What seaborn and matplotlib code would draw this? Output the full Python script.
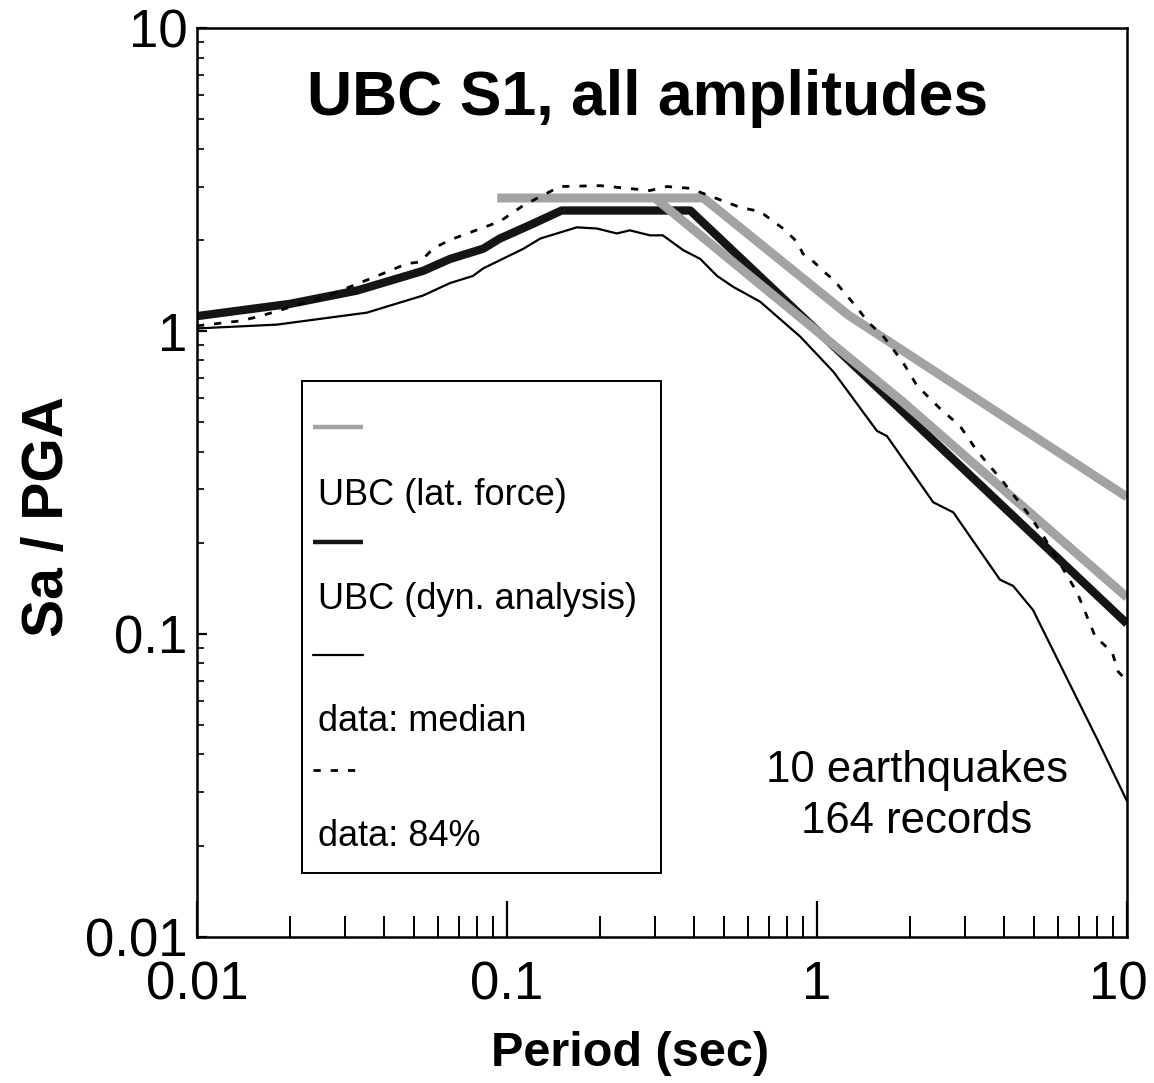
import matplotlib
matplotlib.use("Agg")
import matplotlib.pyplot as plt
from matplotlib.ticker import FixedLocator, FixedFormatter, LogLocator, NullFormatter
from matplotlib.transforms import ScaledTranslation
import seaborn as sns
import pandas as pd

# UBC lateral-force spectrum (two branches)
lat_force_a_period = [0.093, 0.43, 1.26, 10.0]
lat_force_a_value = [2.75, 2.75, 1.13, 0.283]
lat_force_b_period = [0.30, 1.867, 10.0]
lat_force_b_value = [2.75, 0.59, 0.132]

# UBC dynamic-analysis spectrum
dyn_period = [0.01, 0.02, 0.0328, 0.0536, 0.0655, 0.0838, 0.0948, 0.12, 0.15, 0.39, 10.0]
dyn_value = [1.12, 1.23, 1.36, 1.58, 1.73, 1.87, 2.02, 2.25, 2.5, 2.5, 0.108]

# Recorded data: median spectrum
median_period = [0.01, 0.0181, 0.0353, 0.0536, 0.0655, 0.0776, 0.0838, 0.113, 0.128, 0.168,
                 0.195, 0.226, 0.249, 0.289, 0.318, 0.370, 0.420, 0.476, 0.536, 0.655,
                 0.881, 1.13, 1.56, 1.68, 2.37, 2.75, 3.89, 4.29, 4.97, 6.90, 8.0, 10.0]
median_value = [1.02, 1.05, 1.15, 1.31, 1.44, 1.52, 1.61, 1.87, 2.02, 2.20,
                2.18, 2.10, 2.15, 2.07, 2.07, 1.85, 1.73, 1.52, 1.40, 1.25,
                0.96, 0.733, 0.468, 0.450, 0.272, 0.252, 0.151, 0.144, 0.120, 0.061, 0.045, 0.028]

# Recorded data: 84th percentile spectrum
p84_period = [0.01, 0.0138, 0.016, 0.026, 0.0381, 0.0476, 0.0524, 0.0577, 0.0655, 0.0948,
              0.113, 0.148, 0.200, 0.244, 0.289, 0.328, 0.389, 0.428, 0.565, 0.655,
              0.777, 0.862, 0.90, 0.977, 1.045, 1.135, 1.35, 1.46, 1.63, 1.89,
              2.10, 2.50, 2.89, 3.28, 3.98, 4.86, 5.36, 6.90, 7.89, 8.95, 9.36, 10.0]
p84_value = [1.04, 1.08, 1.12, 1.30, 1.52, 1.67, 1.69, 1.87, 2.00, 2.30,
             2.60, 3.00, 3.02, 2.96, 2.91, 3.00, 2.96, 2.85, 2.56, 2.48,
             2.18, 1.97, 1.80, 1.69, 1.58, 1.47, 1.19, 1.07, 0.965, 0.79,
             0.66, 0.553, 0.486, 0.402, 0.318, 0.245, 0.211, 0.137, 0.098, 0.087, 0.075, 0.070]

legend_labels = ["UBC (lat. force)", "UBC (dyn. analysis)", "data: median", "data: 84%"]
tick_values = [0.01, 0.1, 1, 10]
tick_labels = ["0.01", "0.1", "1", "10"]

sns.set_theme(style="ticks")
plt.rcParams["font.family"] = ["Liberation Sans", "DejaVu Sans"]
plt.rcParams.update({"text.color": "black", "axes.labelcolor": "black",
                     "xtick.color": "black", "ytick.color": "black"})

fig = plt.figure(figsize=(11.54, 10.83), dpi=100)
ax = fig.add_axes([0.1707, 0.135, 0.806, 0.839])

GRAY = "#a3a3a3"
BLACK = "#151515"
gray_kw = dict(color=GRAY, linewidth=6.5, solid_capstyle="butt")
black_kw = dict(color=BLACK, linewidth=6.0, solid_capstyle="butt")
thin_kw = dict(color="black", linewidth=1.6)
dot_kw = dict(color="black", linewidth=2.0, linestyle=(0, (2.6, 3.6)))


def draw(period, value, **kw):
    df = pd.DataFrame({"Period": period, "SaPGA": value})
    sns.lineplot(data=df, x="Period", y="SaPGA", ax=ax, estimator=None, sort=False,
                 legend=False, **kw)


draw(dyn_period, dyn_value, **black_kw)
draw(lat_force_b_period, lat_force_b_value, **gray_kw)
draw(lat_force_a_period, lat_force_a_value, **gray_kw)
draw(median_period, median_value, **thin_kw)
draw(p84_period, p84_value, **dot_kw)

ax.set_xscale("log")
ax.set_yscale("log")
ax.set_xlim(0.01, 10)
ax.set_ylim(0.01, 10)

for axis in (ax.xaxis, ax.yaxis):
    axis.set_major_locator(FixedLocator(tick_values))
    axis.set_major_formatter(FixedFormatter(tick_labels))
    axis.set_minor_locator(LogLocator(base=10, subs=range(2, 10)))
    axis.set_minor_formatter(NullFormatter())

ax.tick_params(axis="x", which="major", direction="in", length=26, width=1.6,
               labelsize=38, pad=17, top=False)
ax.tick_params(axis="x", which="minor", direction="in", length=15, width=1.4, top=False)
ax.tick_params(axis="y", which="major", direction="in", length=7, width=1.6,
               labelsize=38, pad=7, right=False)
ax.tick_params(axis="y", which="minor", direction="in", length=5, width=1.2, right=False)

# keep the rightmost period label inside the page
fig.canvas.draw()
last = ax.get_xticklabels()[-1]
last.set_transform(last.get_transform() + ScaledTranslation(-6 / 72, 0, fig.dpi_scale_trans))

for s in ax.spines.values():
    s.set_visible(True)
    s.set_linewidth(1.8)
    s.set_color("black")

ax.set_xlabel("Period (sec)", fontsize=35, fontweight="bold")
ax.xaxis.set_label_coords(0.466, -0.104)
ax.set_ylabel("Sa / PGA", fontsize=41, fontweight="bold")
ax.yaxis.set_label_coords(-0.131, 0.462)

ax.text(0.484, 0.923, "UBC S1, all amplitudes", transform=ax.transAxes,
        ha="center", va="center", fontsize=45, fontweight="bold")

ax.text(0.774, 0.1826, "10 earthquakes", transform=ax.transAxes,
        ha="center", va="center", fontsize=31.5)
ax.text(0.774, 0.1265, "164 records", transform=ax.transAxes,
        ha="center", va="center", fontsize=31.5)

# Legend box: line swatch above each label
box = plt.Rectangle((0.1129, 0.0704), 0.386, 0.5413, transform=ax.transAxes,
                    facecolor="white", edgecolor="black", linewidth=1.4, zorder=5)
ax.add_patch(box)
swatch_styles = [gray_kw, black_kw, thin_kw, dot_kw]
swatch_y = [0.561, 0.4345, 0.3102, 0.1837]
label_y = [0.4862, 0.3707, 0.2365, 0.110]
for kw, sy, ly, lab in zip(swatch_styles, swatch_y, label_y, legend_labels):
    style = dict(kw)
    if style["linewidth"] > 5:
        style["linewidth"] = 3.2
    ax.plot([0.1247, 0.1785], [sy, sy], transform=ax.transAxes, zorder=6, **style)
    ax.text(0.130, ly, lab, transform=ax.transAxes, ha="left", va="center",
            fontsize=26, zorder=6)

fig.savefig("out.png", dpi=100, facecolor="white")
